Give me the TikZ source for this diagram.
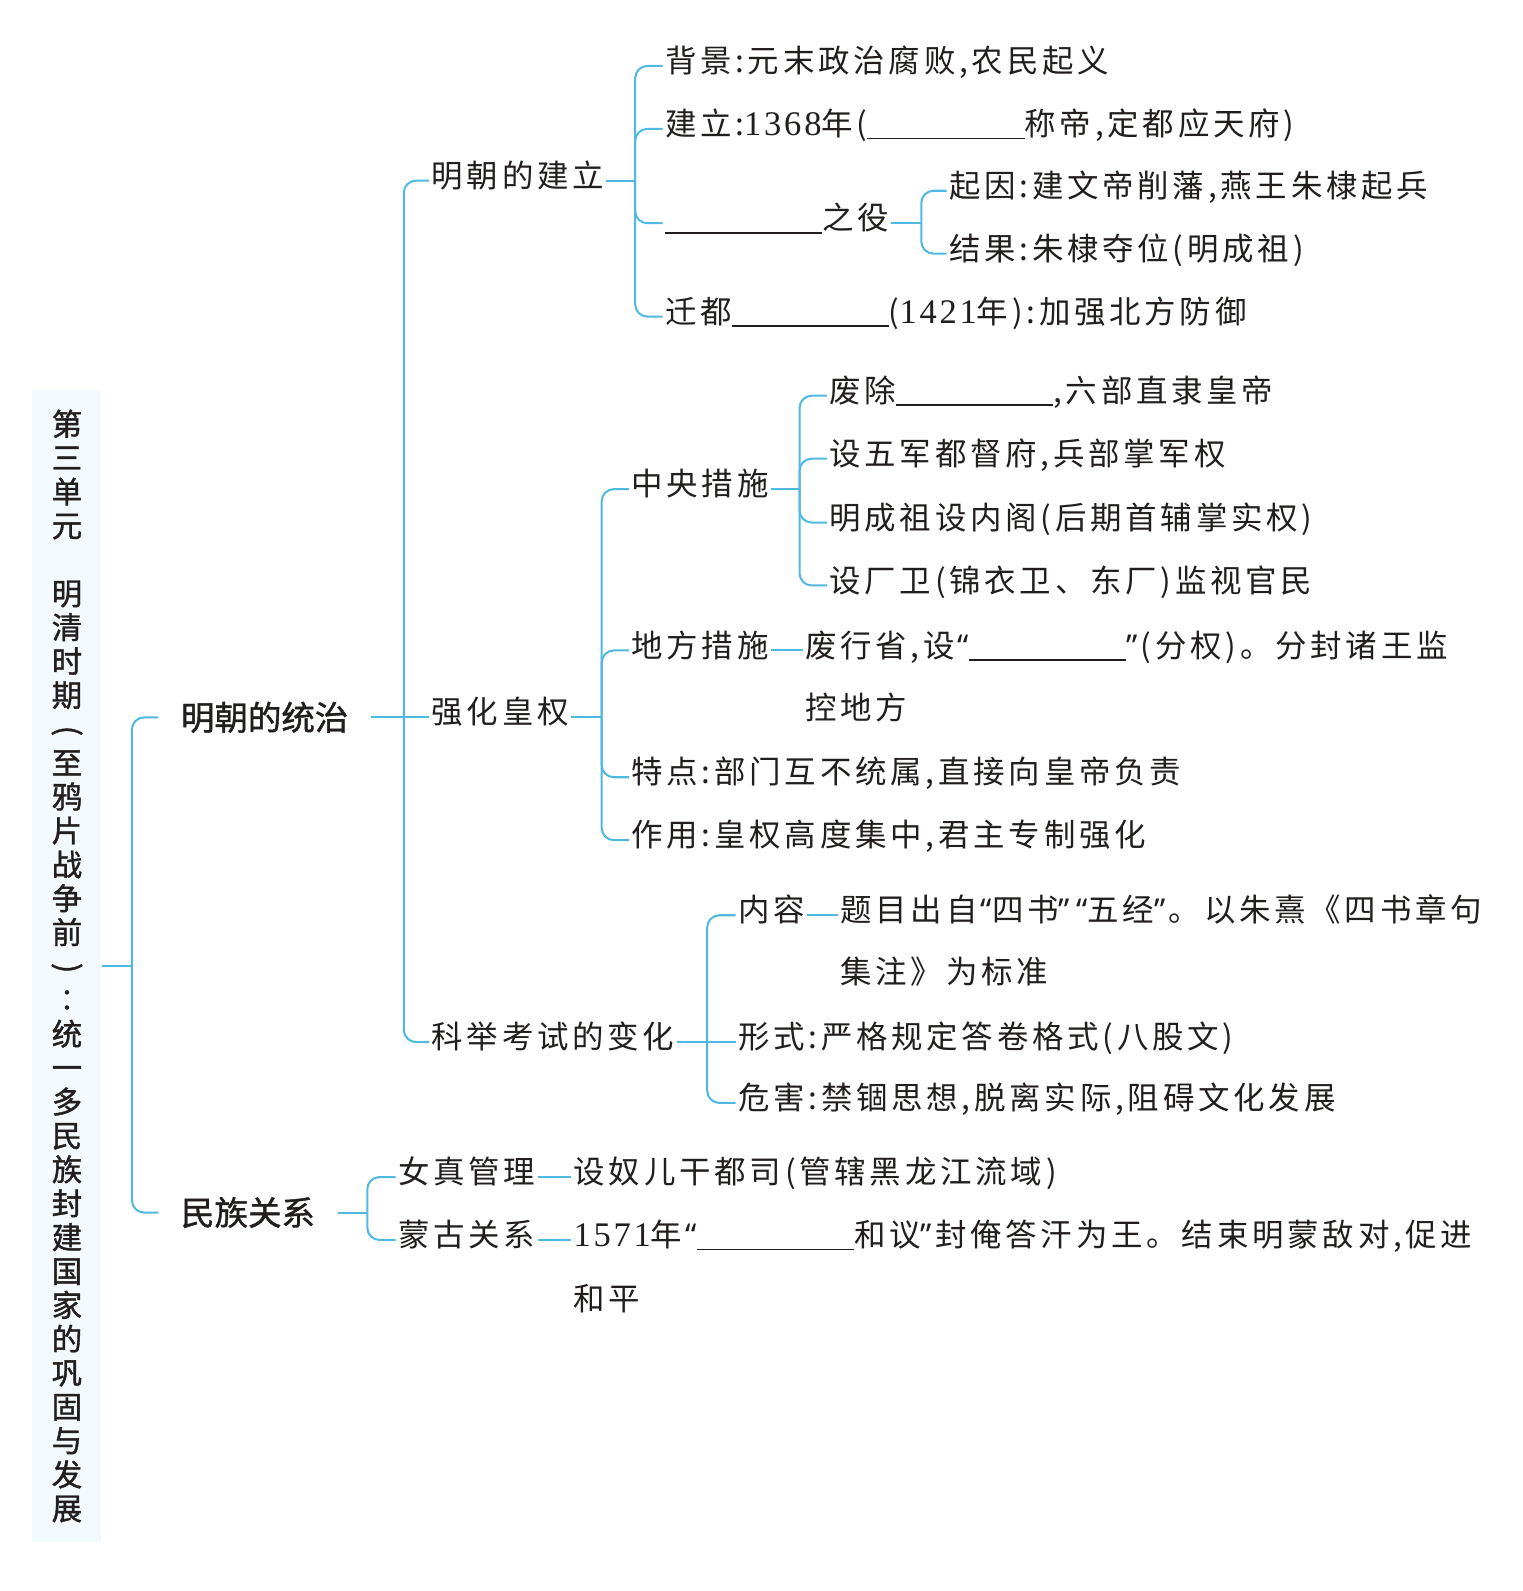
\documentclass[tikz,border=0pt]{standalone}
\usepackage{fontspec}
\newfontfamily\kai[LetterSpace=12]{Noto Sans CJK SC}
\newfontfamily\hei[FakeBold=1.2]{Noto Sans CJK SC}
\newfontfamily\latin{Noto Sans}
\newfontfamily\serifnum[LetterSpace=8]{Liberation Serif}
\definecolor{lineblue}{RGB}{80,185,225}
\definecolor{ink}{RGB}{35,30,30}
\definecolor{bandblue}{RGB}{243,249,252}
\newcommand{\answerline}{\rule[-0.12em]{77.5pt}{0.8pt}}
\newcommand{\lquo}{\hspace{0.1em}{\latin “}}
\newcommand{\rquo}{{\latin ”}\hspace{0.1em}}
\newcommand{\shu}[1]{{\serifnum\fontsize{17pt}{18pt}\selectfont #1}}

\begin{document}
\begin{tikzpicture}[
  x=0.5pt, y=-0.5pt,
  txt/.style={anchor=west,inner xsep=1pt,inner ysep=0pt,text height=0.8em,text depth=0.15em,text=ink,font=\kai\fontsize{15.5pt}{18pt}\selectfont},
  head/.style={anchor=west,inner xsep=11pt,inner ysep=0pt,text=ink,font=\hei\fontsize{16.5pt}{20pt}\selectfont},
  band/.style={fill=bandblue,minimum width=34pt,minimum height=567.5pt,align=center,text=ink,font=\hei\fontsize{15pt}{16.7pt}\selectfont},
  conn/.style={draw=lineblue,line width=1pt,rounded corners=6pt}
]
\fill[white] (0,0) rectangle (1500,1568);

% unit title
\node[band] (unit) at (66,952) {第\\三\\单\\元\\\mbox{}\\明\\清\\时\\期\\\rotatebox[origin=c]{-90}{(}\\至\\鸦\\片\\战\\争\\前\\\rotatebox[origin=c]{-90}{)}\\︰\\统\\一\\多\\民\\族\\封\\建\\国\\家\\的\\巩\\固\\与\\发\\展};

\node[head] (tz) at (156,707) {明朝的统治};
\node[head] (mz) at (156,1195) {民族关系};

\node[txt] (jl) at (423,178) {明朝的建立};
\node[txt] (qh) at (423,707) {强化皇权};
\node[txt] (kj) at (423,1027) {科举考试的变化};

% ming founding
\node[txt] (bj) at (653,65) {背景:元末政治腐败,农民起义};
\node[txt] (jli) at (653,127) {建立:\shu{1368}年(\answerline 称帝,定都应天府)};
\node[txt] (zy) at (653,220) {\answerline 之役};
\node[txt] (qd) at (653,312) {迁都\answerline(\shu{1421}年):加强北方防御};
\node[txt] (qy) at (933,188) {起因:建文帝削藩,燕王朱棣起兵};
\node[txt] (jg) at (933,250) {结果:朱棣夺位(明成祖)};

% imperial power
\node[txt] (zyc) at (620,482) {中央措施};
\node[txt] (fc) at (815,390) {废除\answerline,六部直隶皇帝};
\node[txt] (sw) at (815,452) {设五军都督府,兵部掌军权};
\node[txt] (ny) at (815,515) {明成祖设内阁(后期首辅掌实权)};
\node[txt] (sc) at (815,577) {设厂卫(锦衣卫、东厂)监视官民};
\node[txt] (dfcs) at (620,641) {地方措施};
\node[txt] (dfa) at (791,641) {废行省,设\lquo\answerline\rquo(分权)。分封诸王监};
\node[txt] (dfb) at (791,703) {控地方};
\node[txt] (td) at (620,766) {特点:部门互不统属,直接向皇帝负责};
\node[txt] (zyo) at (620,828) {作用:皇权高度集中,君主专制强化};

% exams
\node[txt] (nr) at (725,902) {内容};
\node[txt] (nra) at (826,902) {题目出自\lquo 四书\rquo\lquo 五经\rquo。以朱熹《四书章句};
\node[txt] (nrb) at (826,963) {集注》为标准};
\node[txt] (xs) at (725,1027) {形式:严格规定答卷格式(八股文)};
\node[txt] (wh) at (725,1087) {危害:禁锢思想,脱离实际,阻碍文化发展};

% ethnic relations
\node[txt] (nz) at (390,1160) {女真管理};
\node[txt] (nza) at (563,1160) {设奴儿干都司(管辖黑龙江流域)};
\node[txt] (mg) at (390,1222) {蒙古关系};
\node[txt] (mga) at (563,1222) {\shu{1571}年\lquo\answerline 和议\rquo 封俺答汗为王。结束明蒙敌对,促进};
\node[txt] (mgb) at (563,1285) {和平};

\coordinate (tj) at (130,952);
\coordinate (tzj) at (398,707);
\coordinate (mzj) at (362,1195);
\coordinate (jlj) at (626,178);
\coordinate (zyj) at (908,220);
\coordinate (qhj) at (593,707);
\coordinate (zycj) at (788,482);
\coordinate (kjj) at (697,1027);

\draw[conn] (unit.east) -- (tj);
\foreach \c in {tz,mz} \draw[conn] (tj) |- (\c.west);
\draw[conn] (tz.east) -- (tzj) -- (qh.west);
\foreach \c in {jl,kj} \draw[conn] (tzj) |- (\c.west);
\draw[conn] (mz.east) -- (mzj);
\foreach \c in {nz,mg} \draw[conn] (mzj) |- (\c.west);
\draw[conn] (jl.east) -- (jlj);
\foreach \c in {bj,jli,zy,qd} \draw[conn] (jlj) |- (\c.west);
\draw[conn] (zy.east) -- (zyj);
\foreach \c in {qy,jg} \draw[conn] (zyj) |- (\c.west);
\draw[conn] (qh.east) -- (qhj);
\foreach \c in {zyc,dfcs,td,zyo} \draw[conn] (qhj) |- (\c.west);
\draw[conn] (zyc.east) -- (zycj);
\foreach \c in {fc,sw,ny,sc} \draw[conn] (zycj) |- (\c.west);
\draw[conn] (kj.east) -- (kjj) -- (xs.west);
\foreach \c in {nr,wh} \draw[conn] (kjj) |- (\c.west);
\draw[conn] (dfcs.east) -- (dfa.west);
\draw[conn] (nr.east) -- (nra.west);
\draw[conn] (nz.east) -- (nza.west);
\draw[conn] (mg.east) -- (mga.west);
\end{tikzpicture}
\end{document}
